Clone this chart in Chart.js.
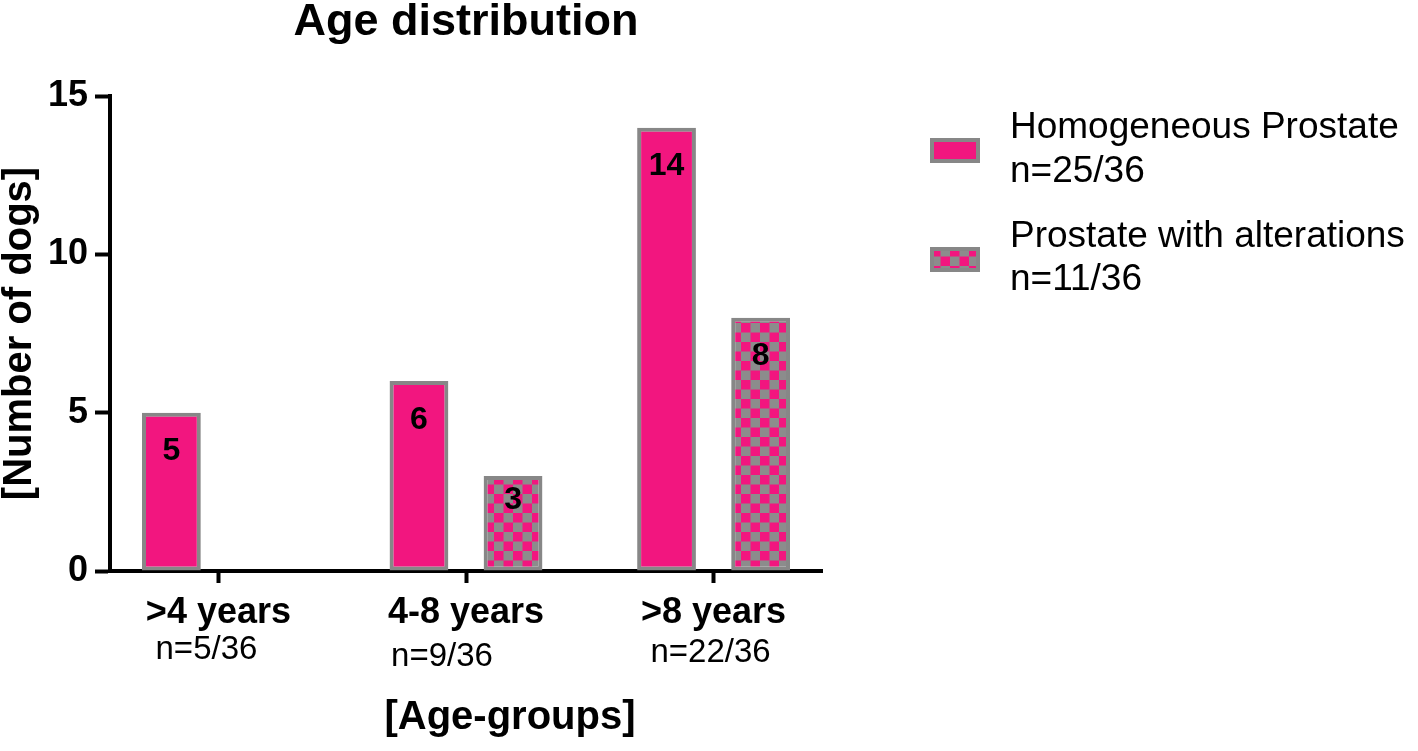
<!DOCTYPE html>
<html>
<head>
<meta charset="utf-8">
<script src="https://cdn.jsdelivr.net/npm/chart.js@4/dist/chart.umd.min.js"></script>
<style>
  html, body { margin: 0; padding: 0; background: #ffffff; }
  #wrap { width: 1418px; height: 751px; position: relative; }
</style>
</head>
<body>
<div id="wrap"><canvas id="c"></canvas></div>
<script>
// ---- data ----
const categories = ['>4 years', '4-8 years', '>8 years'];
const categoryCounts = ['n=5/36', 'n=9/36', 'n=22/36'];
const seriesNames = ['Homogeneous Prostate', 'Prostate with alterations'];
const seriesCounts = ['n=25/36', 'n=11/36'];
const homogeneous = [5, 6, 14];
const withAlterations = [null, 3, 8];
const yTicks = [0, 5, 10, 15];

const PINK = '#F2167F';
const GREY = '#878787';
const FONT = "'Liberation Sans', Arial, Helvetica, sans-serif";

// checker pattern
function makeChecker() {
  const c = document.createElement('canvas');
  c.width = 19; c.height = 19;
  const g = c.getContext('2d');
  g.fillStyle = '#8C8C8C';
  g.fillRect(0, 0, 19, 19);
  g.fillStyle = PINK;
  g.fillRect(0, 0, 9.5, 9.5);
  g.fillRect(9.5, 9.5, 9.5, 9.5);
  return g.createPattern(c, 'repeat');
}
const checker = makeChecker();

// shift category positions to match reference spacing
const xFitPlugin = {
  id: 'xfit',
  afterLayout(chart) {
    const s = chart.scales.x;
    s._startValue = -0.438;
    s._valueRange = 2.876;
  }
};

const decorPlugin = {
  id: 'decor',
  afterDatasetsDraw(chart) {
    const ctx = chart.ctx;
    ctx.save();
    // value labels inside bars
    ctx.fillStyle = '#000';
    ctx.font = 'bold 32px ' + FONT;
    ctx.textAlign = 'center';
    ctx.textBaseline = 'middle';
    chart.data.datasets.forEach((ds, di) => {
      const meta = chart.getDatasetMeta(di);
      meta.data.forEach((el, i) => {
        const v = ds.data[i];
        if (v === null || v === undefined) return;
        const h = el.base - el.y;
        ctx.fillText(String(v), el.x, el.y + Math.min(39, h / 4 + 1));
      });
    });
    ctx.restore();
  },
  afterDraw(chart) {
    const ctx = chart.ctx;
    const xs = chart.scales.x;
    ctx.save();
    ctx.fillStyle = '#000';
    ctx.textBaseline = 'middle';
    // n= sub labels under categories
    ctx.font = '33px ' + FONT;
    ctx.textAlign = 'center';
    const dx = [-12, -24, -3];
    const dy = [650, 657, 653];
    categoryCounts.forEach((t, i) => {
      ctx.fillText(t, xs.getPixelForValue(i) + dx[i], dy[i]);
    });
    // x axis title
    ctx.font = 'bold 40px ' + FONT;
    ctx.fillText('[Age-groups]', 510, 718);
    // legend
    ctx.textAlign = 'left';
    ctx.font = '37px ' + FONT;
    const items = [
      { fill: PINK, top: 138, l1: 128, l2: 172 },
      { fill: checker, top: 247, l1: 237, l2: 280 }
    ];
    items.forEach((it, i) => {
      ctx.fillStyle = GREY;
      ctx.fillRect(930, it.top, 50, 25);
      ctx.fillStyle = it.fill;
      ctx.fillRect(934, it.top + 4, 42, 17);
      ctx.fillStyle = '#000';
      ctx.fillText(seriesNames[i], 1010, it.l1);
      ctx.fillText(seriesCounts[i], 1010, it.l2);
    });
    ctx.restore();
  }
};

new Chart(document.getElementById('c'), {
  type: 'bar',
  data: {
    labels: categories,
    datasets: [
      {
        label: seriesNames[0],
        data: homogeneous,
        backgroundColor: PINK,
        borderColor: GREY,
        borderWidth: 4,
        borderSkipped: false,
        categoryPercentage: 0.76,
        barPercentage: 0.625
      },
      {
        label: seriesNames[1],
        data: withAlterations,
        backgroundColor: checker,
        borderColor: GREY,
        borderWidth: 4,
        borderSkipped: false,
        categoryPercentage: 0.76,
        barPercentage: 0.625
      }
    ]
  },
  options: {
    responsive: true,
    maintainAspectRatio: false,
    animation: false,
    layout: { padding: { left: 0, right: 596, top: 0, bottom: 0 } },
    plugins: {
      legend: { display: false },
      tooltip: { enabled: false },
      title: {
        display: true,
        text: 'Age distribution',
        fullSize: false,
        color: '#000',
        font: { family: FONT, size: 45, weight: 'bold', lineHeight: 1 },
        padding: { top: 0, bottom: 51 }
      }
    },
    scales: {
      x: {
        offset: true,
        grid: {
          offset: false,
          drawOnChartArea: false,
          drawTicks: true,
          tickLength: 12,
          tickWidth: 4,
          tickColor: '#000'
        },
        border: { display: true, color: '#000', width: 4 },
        ticks: {
          color: '#000',
          maxRotation: 0,
          autoSkip: false,
          padding: 8,
          font: { family: FONT, size: 36, weight: 'bold' }
        },
        afterFit(scale) { scale.height = 180; }
      },
      y: {
        min: 0,
        max: 15,
        afterBuildTicks(scale) { scale.ticks = yTicks.map(v => ({ value: v })); },
        grid: {
          drawOnChartArea: false,
          drawTicks: true,
          tickLength: 15,
          tickWidth: 4,
          tickColor: '#000'
        },
        border: { display: true, color: '#000', width: 4 },
        ticks: {
          color: '#000',
          padding: 7,
          font: { family: FONT, size: 36, weight: 'bold' }
        },
        title: {
          display: true,
          text: '[Number of dogs]',
          color: '#000',
          font: { family: FONT, size: 40, weight: 'bold', lineHeight: 1 },
          padding: { top: 0, bottom: 0 }
        },
        afterFit(scale) { scale.width = 110; }
      }
    }
  },
  plugins: [xFitPlugin, decorPlugin]
});
</script>
</body>
</html>
